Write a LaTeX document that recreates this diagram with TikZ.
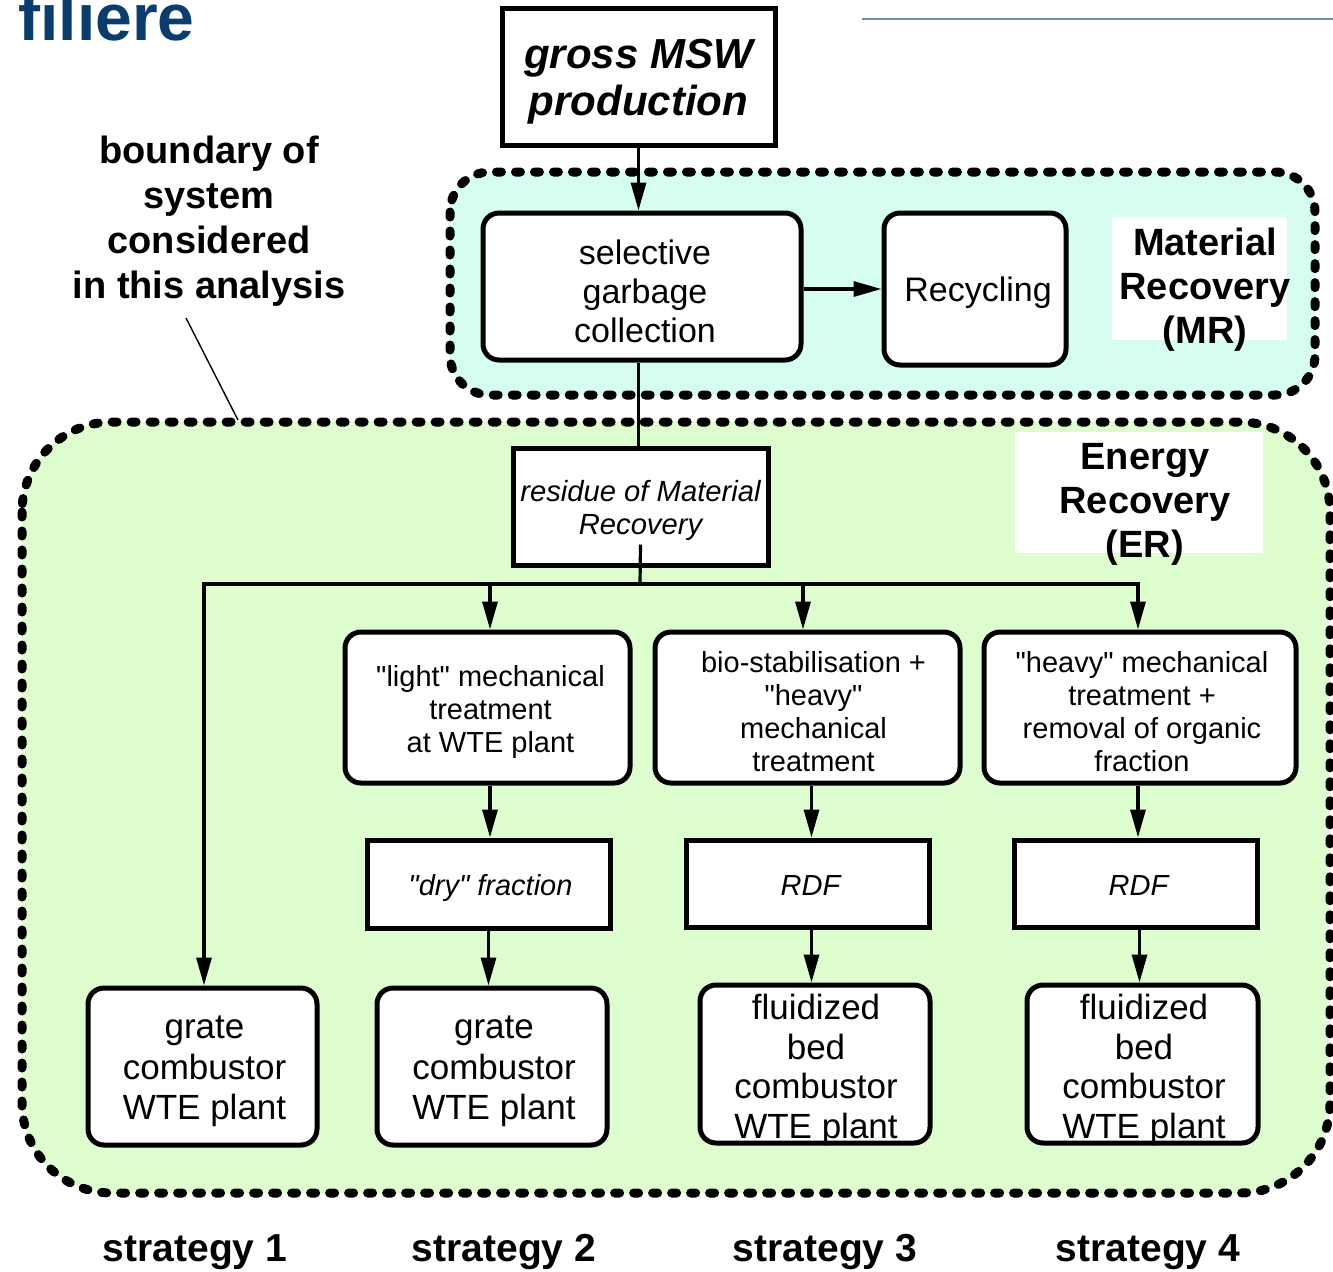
\documentclass[tikz,border=0pt]{standalone}
\usepackage{fontspec}
\setmainfont{Liberation Sans}[Ligatures=TeXOff]
\usetikzlibrary{arrows.meta,calc}
\definecolor{mrfill}{RGB}{213,253,242}
\definecolor{erfill}{RGB}{221,253,206}
\definecolor{filblue}{RGB}{10,60,110}
\definecolor{toprule}{RGB}{110,140,190}
\tikzset{
  rbox/.style={draw, line width=2.5pt, fill=white, rounded corners=8pt, inner sep=0pt, align=center},
  sbox/.style={draw, line width=2.5pt, fill=white, inner sep=0pt, align=center},
  conn/.style={line width=1.6pt},
  arr/.style={conn, -{Triangle[length=14pt,width=7.5pt]}},
  region/.style={line width=4.5pt, dash pattern=on 2.5pt off 7pt, line cap=round},
  boxtxt/.style={font=\fontsize{17}{19.5}\selectfont, align=center, inner sep=0pt},
  medtxt/.style={font=\fontsize{14.5}{16.5}\selectfont, align=center, inner sep=0pt},
  bigtxt/.style={font=\fontsize{17.5}{20.3}\selectfont, align=center, inner sep=0pt},
  ittxt/.style={font=\fontsize{14.5}{16.5}\selectfont\itshape, align=center, inner sep=0pt},
  headtxt/.style={font=\fontsize{19}{22}\selectfont\bfseries, align=center, inner sep=0pt},
}
\begin{document}
\begin{tikzpicture}[x=0.5pt,y=-0.5pt]
\useasboundingbox (0,0) rectangle (1333,1271);

% title remnants
\node[anchor=base west, inner sep=0pt, text=filblue, font=\fontsize{33}{33}\selectfont\bfseries] (fil) at (18,40) {filiere};
\coordinate (rl) at (862,19);
\coordinate (rr) at (1333,19);
\draw[toprule, line width=1pt] (rl) -- (rr);

% regions
\draw[region, fill=mrfill, rounded corners=20pt] (450,172) rectangle (1315,395);
\draw[region, fill=erfill, rounded corners=45pt] (22,422) rectangle (1330,1193);

% labels
\node[fill=white, minimum width=87.5pt, minimum height=61.5pt, inner sep=0pt] (mrbg) at (1199.5,278.5) {};
\node[headtxt] (mrlab) at (1205,290) {Material\\Recovery\\(MR)};
\node[fill=white, minimum width=124pt, minimum height=60.5pt, inner sep=0pt] (erbg) at (1139,492.5) {};
\node[headtxt] (erlab) at (1145,504) {Energy\\Recovery\\(ER)};
\node[headtxt, font=\fontsize{19}{22.5}\selectfont\bfseries] (blabel) at (209,221) {boundary of\\system\\considered\\in this analysis};
\coordinate (ann) at (186,318);
\coordinate (bnd) at (238,420);
\draw[line width=0.7pt] (ann) -- (bnd);

% top boxes
\node[sbox, minimum width=136.5pt, minimum height=68.5pt,
  label={[font=\fontsize{21}{23.5}\selectfont\bfseries\itshape, align=center, inner sep=0pt, yshift=-2.5pt]center:gross MSW\\production}] (gross) at (638.5,76.5) {};
\node[rbox, minimum width=159pt, minimum height=73.5pt,
  label={[boxtxt, yshift=-2.5pt, xshift=1.5pt]center:selective\\garbage\\collection}] (sel) at (642,286.5) {};
\node[rbox, minimum width=91pt, minimum height=76pt,
  label={[boxtxt, yshift=-2pt, xshift=1.5pt]center:Recycling}] (rec) at (975,289) {};
\node[sbox, minimum width=127.5pt, minimum height=58.5pt,
  label={[font=\fontsize{14.6}{16.5}\selectfont\itshape, align=center, inner sep=0pt, yshift=-2pt]center:residue of Material\\Recovery}] (res) at (640.5,506.5) {};

\draw[arr] (gross.south) -- (gross.south |- sel.north);
\draw[arr] (sel.east |- rec.west) -- (rec.west);
\draw[conn] (gross.south |- sel.south) -- (gross.south |- res.north);

% treatment boxes
\node[rbox, minimum width=142.5pt, minimum height=75.5pt,
  label={[medtxt, yshift=-2pt, xshift=1.5pt]center:{\char34}light{\char34} mechanical\\treatment\\at WTE plant}] (light) at (487.5,707.5) {};
\node[rbox, minimum width=152.5pt, minimum height=75.5pt,
  label={[medtxt, yshift=-2pt, xshift=3pt]center:bio-stabilisation +\\{\char34}heavy{\char34}\\mechanical\\treatment}] (bio) at (807.5,707.5) {};
\node[rbox, minimum width=156pt, minimum height=75.5pt,
  label={[medtxt, yshift=-2pt, xshift=1pt]center:{\char34}heavy{\char34} mechanical\\treatment +\\removal of organic\\fraction}] (heavy) at (1140,707.5) {};

\node[sbox, minimum width=121.5pt, minimum height=44pt,
  label={[ittxt, yshift=-2pt, xshift=1pt]center:{\char34}dry{\char34} fraction}] (dry) at (488.5,884) {};
\node[sbox, minimum width=121.5pt, minimum height=43.5pt,
  label={[ittxt, yshift=-1pt, xshift=1.5pt]center:RDF}] (rdfa) at (807.5,883.5) {};
\node[sbox, minimum width=121.5pt, minimum height=43.5pt,
  label={[ittxt, yshift=-1pt, xshift=1.5pt]center:RDF}] (rdfb) at (1135.5,883.5) {};

\node[rbox, minimum width=114.5pt, minimum height=78.5pt,
  label={[bigtxt, yshift=-2.5pt, xshift=1pt]center:grate\\combustor\\WTE plant}] (ga) at (202.5,1066.5) {};
\node[rbox, minimum width=115pt, minimum height=78.5pt,
  label={[bigtxt, yshift=-2.5pt, xshift=1pt]center:grate\\combustor\\WTE plant}] (gb) at (492,1066.5) {};
\node[rbox, minimum width=115pt, minimum height=79pt] (fa) at (815,1064) {};
\node[rbox, minimum width=115.5pt, minimum height=79pt] (fb) at (1142.5,1064) {};
\node[bigtxt, font=\fontsize{17.5}{19.8}\selectfont] (fatxt) at (816,1070) {fluidized\\bed\\combustor\\WTE plant};
\node[bigtxt, font=\fontsize{17.5}{19.8}\selectfont] (fbtxt) at (1144,1070) {fluidized\\bed\\combustor\\WTE plant};

% distribution
\coordinate (hub) at (640,584);
\draw[conn] ([yshift=11.5pt]res.south) -- (hub);
\draw[arr] (hub) -| ([xshift=0.75pt]ga.north);
\draw[arr] (hub) -| ([xshift=1.25pt]light.north);
\draw[arr] (hub) -| ([xshift=-2.25pt]bio.north);
\draw[arr] (hub) -| ([xshift=-1pt]heavy.north);

\draw[arr] ([xshift=1.25pt]light.south) -- ([xshift=1.25pt]light.south |- dry.north);
\draw[arr] ([xshift=2pt]bio.south) -- ([xshift=2pt]bio.south |- rdfa.north);
\draw[arr] ([xshift=-1pt]heavy.south) -- ([xshift=-1pt]heavy.south |- rdfb.north);
\draw[arr] (dry.south) -- (dry.south |- gb.north);
\draw[arr] ([xshift=2pt]rdfa.south) -- ([xshift=2pt]rdfa.south |- fa.north);
\draw[arr] ([xshift=2pt]rdfb.south) -- ([xshift=2pt]rdfb.south |- fb.north);

% strategy labels
\node[headtxt, font=\fontsize{19.5}{22}\selectfont\bfseries] (s1) at (195,1252) {strategy 1};
\node[headtxt, font=\fontsize{19.5}{22}\selectfont\bfseries] (s2) at (504,1252) {strategy 2};
\node[headtxt, font=\fontsize{19.5}{22}\selectfont\bfseries] (s3) at (825,1252) {strategy 3};
\node[headtxt, font=\fontsize{19.5}{22}\selectfont\bfseries] (s4) at (1148,1252) {strategy 4};
\end{tikzpicture}
\end{document}
